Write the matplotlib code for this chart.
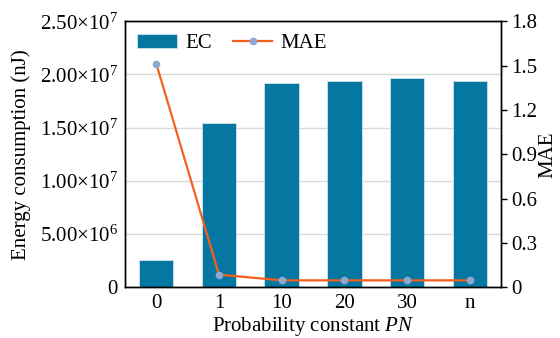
import matplotlib
matplotlib.use('Agg')
import matplotlib.pyplot as plt
import numpy as np
from matplotlib.ticker import FuncFormatter

plt.rcParams['font.family'] = 'Liberation Serif'
plt.rcParams['mathtext.fontset'] = 'custom'
plt.rcParams['mathtext.rm'] = 'Liberation Serif'
plt.rcParams['mathtext.it'] = 'Liberation Serif:italic'
plt.rcParams['font.size'] = 15

categories = ['0', '1', '10', '20', '30', 'n']
ec = [2.54e6, 1.54e7, 1.92e7, 1.935e7, 1.97e7, 1.943e7]  # energy consumption, nJ
mae = [1.514, 0.086, 0.047, 0.047, 0.047, 0.047]

bar_color = '#0677a1'
line_color = '#f4601c'
marker_color = '#8fa8d2'

def sci_fmt(v, pos):
    if v == 0:
        return '0'
    e = int(np.floor(np.log10(v)))
    m = v / 10**e
    return '%.2f×10$^{%d}$' % (m, e)

fig, ax = plt.subplots(figsize=(5.6, 3.38), dpi=100)
x = np.arange(len(categories))

ax.bar(x, ec, width=0.55, color=bar_color, edgecolor='#cfe3ec', linewidth=0.6,
       label='EC', zorder=2)
ax.set_ylim(0, 2.5e7)
ax.set_xlim(-0.5, len(categories) - 0.5)
ax.set_yticks(np.arange(0, 2.5e7 + 1, 5e6))
ax.yaxis.set_major_formatter(FuncFormatter(sci_fmt))
ax.set_xticks(x)
ax.set_xticklabels(categories)
ax.yaxis.grid(True, color='#d9d9d9', linewidth=1.0, zorder=0)
ax.set_axisbelow(True)
ax.tick_params(axis='both', length=0, pad=5)
ax.set_ylabel('Energy consumption (nJ)', labelpad=6)
ax.set_xlabel('Probability constant $PN$', labelpad=1)

ax2 = ax.twinx()
ax2.plot(x, mae, color=line_color, linewidth=1.6, marker='o', markersize=4.5,
         markerfacecolor=marker_color, markeredgecolor=marker_color, label='MAE', zorder=3)
ax2.set_ylim(0, 1.8)
ax2.set_yticks(np.arange(0, 1.81, 0.3))
ax2.yaxis.set_major_formatter(FuncFormatter(lambda v, p: '0' if abs(v) < 1e-9 else '%.1f' % v))
ax2.tick_params(axis='y', length=4, width=1, direction='out', pad=3)
ax2.set_ylabel('MAE', labelpad=1)

for a in (ax, ax2):
    for s in a.spines.values():
        s.set_linewidth(1.0)
        s.set_color('black')

h1, l1 = ax.get_legend_handles_labels()
h2, l2 = ax2.get_legend_handles_labels()
ax.legend(h1 + h2, l1 + l2, loc='upper left', ncol=2, frameon=False,
          handlelength=1.9, handletextpad=0.4, columnspacing=1.0,
          borderaxespad=0.3, borderpad=0.3)

plt.subplots_adjust(left=0.223, right=0.895, top=0.937, bottom=0.15)
plt.savefig('out.png', dpi=100)
